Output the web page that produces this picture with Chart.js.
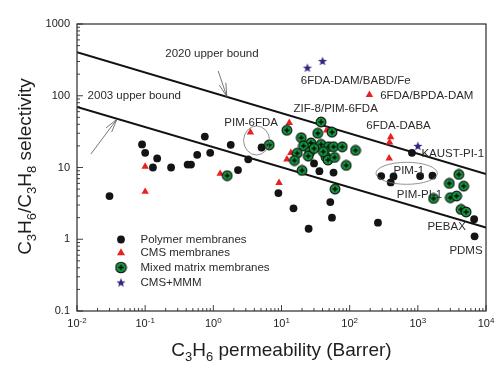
<!DOCTYPE html>
<html><head><meta charset="utf-8">
<script src="https://cdn.jsdelivr.net/npm/chart.js@4/dist/chart.umd.min.js"></script>
<style>html,body{margin:0;padding:0;background:#fff;}#wrap{width:503px;height:369px;position:relative;}</style>
</head><body><div id="wrap"><canvas id="c"></canvas></div>
<script>
// ---------- data ----------
const polymerX = [0.03,0.09,0.1,0.13,0.15,0.24,0.42,0.47,0.58,0.75,0.9,1.8,2.3,3.25,5.1,9,15,25,30,36,52,55,58,260,290,400,440,820,1080,1640,6700,6800];
const polymerY = [4.0,21,16,10,13.4,10,11,11,15,27,16,20.7,9.2,13,19,4.4,2.7,1.4,11.4,8.9,3.3,2.0,8.5,1.7,7.6,6.2,7.5,16,7.6,7.7,1.9,1.1];
const cmsX = [0.1,0.1,1.26,3.5,9.2,12,13.7,13,46,195,380,385,400];
const cmsY = [10.3,4.6,8.2,31,6.1,13,16,42,33,103,13.4,22.5,26.5];
const mmmX = [1.6,6.6,12,38,55,34,19.5,27,21,38,49,58,78,122,17,26,24.7,15.5,45,48,60,89,20,61,30,41,4000,2900,4700,1700,3000,3700,4300,5100];
const mmmY = [7.7,20.7,33,43,31,30,26,22,20,21,19.5,19.5,19.4,17.3,15.8,16.4,14.4,12.5,14,12.7,13.8,10.7,9.1,5,18.4,16.6,8.0,6.0,5.5,3.7,3.8,4.0,2.6,2.4];
const starX = [24,40,1000];
const starY = [246,305,20];
const bound2020X = [0.01,10000];
const bound2020Y = [403,8.1];
const bound2003X = [0.01,10000];
const bound2003Y = [70,1.46];
const xTickValues = [0.01,0.1,1,10,100,1000,10000];
const xTickExps = ['-2','-1','0','1','2','3','4'];
const yTickValues = [0.1,1,10,100,1000];
const yTickLabels = ['0.1','1','10','100','1000'];
const legendLabels = ['Polymer membranes','CMS membranes','Mixed matrix membranes','CMS+MMM'];
const noteText = ['2020 upper bound','2003 upper bound','PIM-6FDA','ZIF-8/PIM-6FDA','6FDA-DAM/BABD/Fe','6FDA/BPDA-DAM','6FDA-DABA','KAUST-PI-1','PIM-1','PIM-PI-1','PEBAX','PDMS'];
const noteX = [0.197,0.0143,1.45,15.0,19.2,280,175,1130,439,492,1384,2904];
const noteY = [390,99,42,65.9,160,101,37.8,15.7,8.9,4.22,1.49,0.689];
const ellipseX = [4.31,686];
const ellipseY = [23.8,8.3];
const arrowTail = [[0.016,15.4],[1.18,221]];
const arrowTip = [[0.0386,47.3],[1.58,96.9]];

// ---------- styles ----------
const FONT = '"Liberation Sans", Arial, Helvetica, sans-serif';
const BLACK = '#141414', RED = 'rgb(232,32,32)', GREEN = 'rgb(18,150,62)', STAR = 'rgb(52,38,128)';

function makeGreen(r){
  const s = Math.ceil(r*2+2), c = document.createElement('canvas'); c.width=s; c.height=s;
  const g = c.getContext('2d'), m = s/2;
  g.beginPath(); g.arc(m,m,r,0,Math.PI*2); g.fillStyle=GREEN; g.fill();
  g.lineWidth=1.1; g.strokeStyle='#111'; g.stroke();
  g.beginPath(); g.moveTo(m-r*0.5,m); g.lineTo(m+r*0.5,m); g.moveTo(m,m-r*0.5); g.lineTo(m,m+r*0.5);
  g.lineWidth=1.3; g.strokeStyle='#000'; g.stroke();
  return c;
}
function starPath(g,cx,cy,ro,ri){
  g.beginPath();
  for(let i=0;i<10;i++){const r=i%2?ri:ro, a=-Math.PI/2+i*Math.PI/5; const X=cx+r*Math.cos(a), Y=cy+r*Math.sin(a); i?g.lineTo(X,Y):g.moveTo(X,Y);}
  g.closePath();
}
function makeStar(r){
  const s=Math.ceil(r*2+2), c=document.createElement('canvas'); c.width=s; c.height=s;
  const g=c.getContext('2d'); starPath(g,s/2,s/2+0.4,r,r*0.42); g.fillStyle=STAR; g.fill(); return c;
}
const greenImg = makeGreen(4.9), starImg = makeStar(4.8);
const greenLeg = makeGreen(5.3), starLeg = makeStar(4.8);

const pts = (xs,ys)=>xs.map((x,i)=>({x, y:ys[i]}));

function rich(ctx, parts, fs, ss){
  let w=0; for(const p of parts){ctx.font=(p[1]?ss:fs)+'px '+FONT; w+=ctx.measureText(p[0]).width;} return w;
}
function richDraw(ctx, parts, x, y, fs, ss, dy){
  for(const p of parts){ctx.font=(p[1]?ss:fs)+'px '+FONT; ctx.fillText(p[0], x, p[1]?y+dy:y); x+=ctx.measureText(p[0]).width;}
}

const deco = {
  id:'deco',
  afterDatasetsDraw(chart){
    const ctx=chart.ctx, xs=chart.scales.x, ys=chart.scales.y, a=chart.chartArea;
    const X=v=>xs.getPixelForValue(v), Y=v=>ys.getPixelForValue(v);
    ctx.save();
    // frame
    ctx.strokeStyle='#2a2a2a'; ctx.lineWidth=1.2;
    ctx.strokeRect(a.left, a.top, a.right-a.left, a.bottom-a.top);
    // inward ticks
    ctx.lineWidth=0.9; ctx.beginPath();
    for(let e=-2;e<=4;e++) for(let m=1;m<10;m++){
      const v=m*Math.pow(10,e); if(v>10000*1.0001) break;
      const p=X(v), L=m===1?6:3; ctx.moveTo(p,a.bottom); ctx.lineTo(p,a.bottom-L);
    }
    for(let e=-1;e<=3;e++) for(let m=1;m<10;m++){
      const v=m*Math.pow(10,e); if(v>1000*1.0001) break;
      const p=Y(v), L=m===1?6:3; ctx.moveTo(a.left,p); ctx.lineTo(a.left+L,p);
    }
    ctx.stroke();
    // x tick labels with superscripts
    ctx.fillStyle='#222'; ctx.textBaseline='alphabetic'; ctx.textAlign='left';
    xTickValues.forEach((v,i)=>{
      const parts=[['10',0],[xTickExps[i],1]];
      const w=rich(ctx,parts,11,8);
      richDraw(ctx,parts,X(v)-w/2,a.bottom+16,11,8,-4.5);
    });
    // axis titles
    ctx.fillStyle='#1e1e1e';
    const xt=[['C',0],['3',1],['H',0],['6',1],[' permeability (Barrer)',0]];
    const wx=rich(ctx,xt,19,13);
    richDraw(ctx,xt,(a.left+a.right)/2-wx/2,356,19,13,4.5);
    const yt=[['C',0],['3',1],['H',0],['6',1],['/C',0],['3',1],['H',0],['8',1],[' selectivity',0]];
    const wy=rich(ctx,yt,19,13);
    ctx.save(); ctx.translate(31,(a.top+a.bottom)/2-1); ctx.rotate(-Math.PI/2);
    richDraw(ctx,yt,-wy/2,0,19,13,4.5); ctx.restore();
    // ellipses
    ctx.strokeStyle='#777'; ctx.lineWidth=0.8;
    const er=[[13,14.5],[30.7,11]];
    ellipseX.forEach((v,i)=>{ctx.beginPath(); ctx.ellipse(X(v),Y(ellipseY[i]),er[i][0],er[i][1],0,0,Math.PI*2); ctx.stroke();});
    // arrows
    ctx.strokeStyle='#555'; ctx.lineWidth=0.8;
    arrowTail.forEach((t,i)=>{
      const x0=X(t[0]), y0=Y(t[1]), x1=X(arrowTip[i][0]), y1=Y(arrowTip[i][1]);
      const ang=Math.atan2(y0-y1,x0-x1), L=14;
      ctx.beginPath(); ctx.moveTo(x0,y0); ctx.lineTo(x1,y1);
      ctx.moveTo(x1+L*Math.cos(ang+0.25),y1+L*Math.sin(ang+0.25)); ctx.lineTo(x1,y1);
      ctx.lineTo(x1+L*Math.cos(ang-0.25),y1+L*Math.sin(ang-0.25));
      ctx.stroke();
    });
    // annotation labels
    ctx.fillStyle='#2a2a2a'; ctx.font='11.5px '+FONT; ctx.textBaseline='middle'; ctx.textAlign='left';
    noteText.forEach((t,i)=>ctx.fillText(t, X(noteX[i]), Y(noteY[i])));
    // legend
    const lx=a.left+44, ly=[a.top+215.5, a.top+228.5, a.top+243.5, a.top+258.5];
    ctx.fillStyle=BLACK; ctx.beginPath(); ctx.arc(lx,ly[0],3.9,0,Math.PI*2); ctx.fill();
    ctx.fillStyle=RED; ctx.beginPath(); ctx.moveTo(lx,ly[1]-4.2); ctx.lineTo(lx+4,ly[1]+2.8); ctx.lineTo(lx-4,ly[1]+2.8); ctx.closePath(); ctx.fill();
    ctx.drawImage(greenLeg, lx-greenLeg.width/2, ly[2]-greenLeg.height/2);
    ctx.drawImage(starLeg, lx-starLeg.width/2, ly[3]-starLeg.height/2);
    ctx.fillStyle='#2a2a2a'; ctx.font='11.5px '+FONT;
    legendLabels.forEach((t,i)=>ctx.fillText(t, lx+19.5, ly[i]));
    ctx.restore();
  }
};

new Chart(document.getElementById('c'), {
  type:'scatter',
  data:{datasets:[
    {label:'Mixed matrix membranes', data:pts(mmmX,mmmY), pointStyle:greenImg},
    {label:'CMS+MMM', data:pts(starX,starY), pointStyle:starImg},
    {label:'CMS membranes', data:pts(cmsX,cmsY), pointStyle:'triangle', pointRadius:4.3, backgroundColor:RED, borderWidth:0},
    {label:'Polymer membranes', data:pts(polymerX,polymerY), pointStyle:'circle', pointRadius:3.9, backgroundColor:BLACK, borderWidth:0},
    {label:'2020 upper bound', data:pts(bound2020X,bound2020Y), showLine:true, pointRadius:0, borderColor:'#111', borderWidth:2},
    {label:'2003 upper bound', data:pts(bound2003X,bound2003Y), showLine:true, pointRadius:0, borderColor:'#111', borderWidth:2}
  ]},
  options:{
    responsive:true, maintainAspectRatio:false, animation:false, events:[],
    layout:{padding:{left:0,right:17,top:24,bottom:0}},
    plugins:{legend:{display:false}, tooltip:{enabled:false}},
    scales:{
      x:{type:'logarithmic', min:0.01, max:10000,
         grid:{display:false, drawTicks:false}, border:{display:false},
         ticks:{display:false, autoSkip:false},
         afterFit:s=>{s.height=58;}},
      y:{type:'logarithmic', min:0.1, max:1000,
         grid:{display:false, drawTicks:false}, border:{display:false},
         ticks:{autoSkip:false, padding:7, color:'#222', font:{size:11, family:FONT},
           callback:(v)=>{const i=yTickValues.findIndex(t=>Math.abs(t-v)/t<1e-6); return i<0?null:yTickLabels[i];}},
         afterFit:s=>{s.width=77;}}
    }
  },
  plugins:[deco]
});
</script></body></html>
